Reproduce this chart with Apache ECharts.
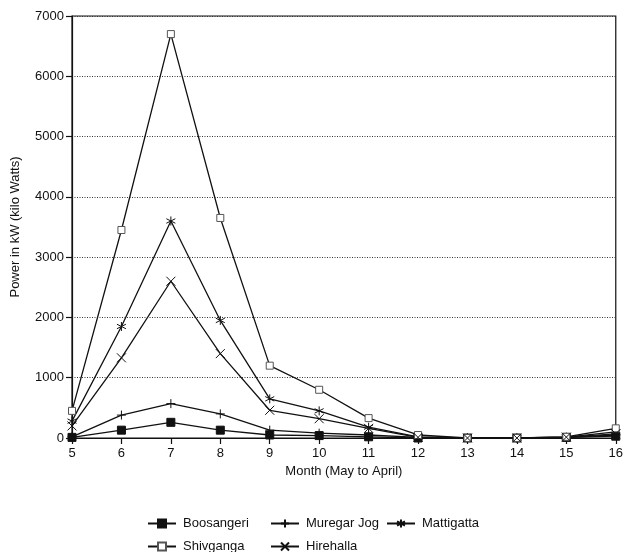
<!DOCTYPE html>
<html>
<head>
<meta charset="utf-8">
<script src="https://cdn.jsdelivr.net/npm/echarts@6/dist/echarts.min.js"></script>
<style>
  html, body { margin: 0; padding: 0; background: #fff; }
  #chart { width: 626px; height: 552px; }
</style>
</head>
<body>
<div id="chart"></div>
<script>
// Months, May (5) through April (16)
const months = [5, 6, 7, 8, 9, 10, 11, 12, 13, 14, 15, 16];

// Power generated per site, kW
const boosangeri = [10, 130, 260, 130, 50, 40, 20, 0, 0, 0, 10, 30];
const muregarJog = [20, 380, 570, 400, 130, 80, 50, 10, 0, 0, 10, 50];
const mattigatta = [280, 1850, 3600, 1950, 650, 450, 180, 20, 0, 0, 15, 100];
const shivganga  = [450, 3450, 6700, 3650, 1200, 800, 330, 50, 0, 0, 20, 160];
const hirehalla  = [200, 1330, 2600, 1400, 460, 320, 160, 10, 0, 0, 15, 70];

const yTicks = [0, 1000, 2000, 3000, 4000, 5000, 6000, 7000];

const FONT = '"Liberation Sans", Arial, Helvetica, sans-serif';

const SYM_PLUS = 'path://M0,5L10,5M5,0L5,10';
const SYM_X = 'path://M0,0L10,10M10,0L0,10';
const SYM_STAR = 'path://M5,0L5,10M0.7,2.5L9.3,7.5M9.3,2.5L0.7,7.5';
const SYM_BOX = 'path://M0,0L10,0L10,10L0,10Z';

function pairs(values) {
  return months.map((m, i) => [m, values[i]]);
}

function makeSeries(name, values, symbol, size, fill, stroke) {
  return {
    name: name,
    type: 'line',
    data: pairs(values),
    symbol: symbol,
    symbolSize: size,
    showAllSymbol: true,
    color: '#111',
    lineStyle: { color: '#111', width: 1.3 },
    itemStyle: { color: fill || '#111', borderColor: stroke || '#111', borderWidth: 1 },
    emphasis: { disabled: true }
  };
}

const chart = echarts.init(document.getElementById('chart'), null, { renderer: 'canvas' });

// one legend entry per slot, laid out as two rows of columns
function legendItem(name, left, top) {
  return {
    left: left,
    top: top,
    padding: 0,
    itemWidth: 28,
    itemHeight: 10,
    textStyle: { fontFamily: FONT, fontSize: 13, color: '#111', padding: [0, 0, 0, 2] },
    selectedMode: false,
    data: [name]
  };
}

chart.setOption({
  animation: false,
  backgroundColor: '#fff',
  grid: {
    left: 72, right: 6, top: 16, bottom: 114,
    show: true, borderColor: '#111', borderWidth: 1.2
  },
  legend: [
    legendItem('Boosangeri', 147, 517),
    legendItem('Muregar Jog', 270, 517),
    legendItem('Mattigatta', 386, 517),
    legendItem('Shivganga', 147, 540),
    legendItem('Hirehalla', 270, 540)
  ],
  xAxis: {
    type: 'value',
    min: months[0],
    max: months[months.length - 1],
    interval: 1,
    name: 'Month (May to April)',
    nameLocation: 'middle',
    nameGap: 27,
    nameTextStyle: { fontFamily: FONT, fontSize: 13, color: '#111' },
    axisLine: { lineStyle: { color: '#111', width: 1.2 } },
    axisTick: { show: true, length: 6, lineStyle: { color: '#111', width: 1.2 } },
    axisLabel: { fontFamily: FONT, fontSize: 13, color: '#111', margin: 9 },
    splitLine: { show: false }
  },
  yAxis: {
    type: 'value',
    min: yTicks[0],
    max: yTicks[yTicks.length - 1],
    interval: 1000,
    name: 'Power in kW (kilo Watts)',
    nameLocation: 'middle',
    nameGap: 50,
    nameTextStyle: { fontFamily: FONT, fontSize: 13, color: '#111' },
    axisLine: { show: true, lineStyle: { color: '#111', width: 1.2 } },
    axisTick: { show: true, length: 6, lineStyle: { color: '#111', width: 1.2 } },
    axisLabel: { fontFamily: FONT, fontSize: 13, color: '#111', margin: 8, formatter: v => String(v) },
    splitLine: { show: true, lineStyle: { color: '#333', type: [1, 1.5], width: 1.2 } }
  },
  series: [
    makeSeries('Boosangeri', boosangeri, 'rect', 8),
    makeSeries('Muregar Jog', muregarJog, SYM_PLUS, 9),
    makeSeries('Mattigatta', mattigatta, SYM_STAR, 9),
    makeSeries('Shivganga', shivganga, SYM_BOX, 7, '#fff', '#555'),
    makeSeries('Hirehalla', hirehalla, SYM_X, 9)
  ]
});
</script>
</body>
</html>
